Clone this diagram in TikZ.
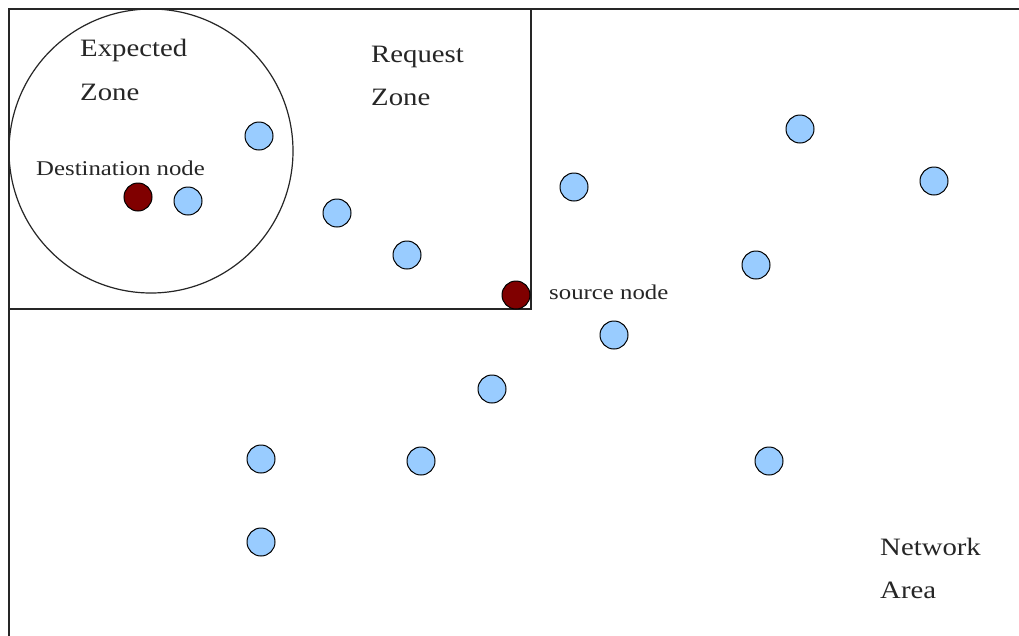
\documentclass[tikz,border=0pt]{standalone}
\usepackage{fontspec}
\setmainfont{Liberation Serif}
\begin{document}
\begin{tikzpicture}[x=1pt,y=-1pt,
  frame/.style={draw=black!85,line width=1.4pt},
  zone/.style={draw=black!85,line width=1.2pt},
  mnode/.style={circle,draw=black,line width=1pt,fill=blueN,minimum size=28pt,inner sep=0pt},
  endnode/.style={mnode,fill=redN},
  bigtxt/.style={anchor=base west,inner sep=0pt,font=\fontsize{25}{25}\selectfont,xscale=1.15,transform shape,text=black!85},
  smalltxt/.style={anchor=base west,inner sep=0pt,font=\fontsize{21}{21}\selectfont,xscale=1.18,transform shape,text=black!85}]
\definecolor{blueN}{HTML}{99CCFF}
\definecolor{redN}{HTML}{800000}
\useasboundingbox (0,0) rectangle (1019,635);
\clip (0,0) rectangle (1019,635);
\fill[white] (0,0) rectangle (1019,635);
% network area frame (open to right and bottom)
\coordinate (nb) at (9,640);
\coordinate (nc) at (9,9);
\coordinate (nr) at (1025,9);
\draw[frame] (nb) -- (nc) -- (nr);
% request zone
\coordinate (rz1) at (9,9);
\coordinate (rz2) at (531,309);
\draw[frame] (rz1) rectangle (rz2);
% expected zone
\node[zone,circle,minimum size=284pt,inner sep=0pt] (ez) at (151,151) {};
% texts
\node[bigtxt] (t1) at (80,56) {Expected};
\node[bigtxt] (t2) at (80,100) {Zone};
\node[bigtxt] (t3) at (371,62) {Request};
\node[bigtxt] (t4) at (371,105) {Zone};
\node[bigtxt] (t5) at (880,555) {Network};
\node[bigtxt] (t6) at (880,598) {Area};
\node[smalltxt] (t7) at (36,175) {Destination node};
\node[smalltxt] (t8) at (549,299) {source node};
% nodes
\node[endnode] (dst) at (138,197) {};
\node[endnode] (src) at (516,295) {};
\node[mnode] (n1) at (259,136) {};
\node[mnode] (n2) at (188,201) {};
\node[mnode] (n3) at (337,213) {};
\node[mnode] (n4) at (407,255) {};
\node[mnode] (n5) at (574,187) {};
\node[mnode] (n6) at (800,129) {};
\node[mnode] (n7) at (934,181) {};
\node[mnode] (n8) at (756,265) {};
\node[mnode] (n9) at (614,335) {};
\node[mnode] (n10) at (492,389) {};
\node[mnode] (n11) at (261,459) {};
\node[mnode] (n12) at (421,461) {};
\node[mnode] (n13) at (769,461) {};
\node[mnode] (n14) at (261,542) {};
\end{tikzpicture}
\end{document}
